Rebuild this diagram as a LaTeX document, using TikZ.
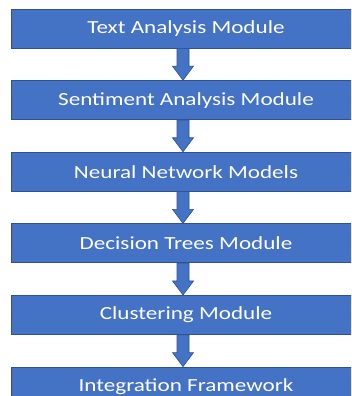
\documentclass[tikz,border=0pt]{standalone}
\usepackage{fontspec}
\setmainfont{Carlito}
\usetikzlibrary{positioning,calc}

\definecolor{boxblue}{HTML}{4472C4}
\definecolor{edgeblue}{HTML}{2F528F}

\tikzset{
  module/.style={draw=edgeblue, line width=.8pt, fill=boxblue, text=white,
    minimum width=350pt, minimum height=39pt, inner sep=0pt,
    font=\fontsize{18.5}{20}\selectfont},
  flow/.style={draw=edgeblue, line width=.6pt, fill=boxblue}
}
% wide lettering in the boxes
\newcommand{\wide}[1]{\scalebox{1.25}[1]{#1}}
% block arrow from the bottom of one box to the top of the next
\newcommand{\flowarrow}[2]{
  \draw[flow] ($(#1.south)+(-9pt,0)$) -- ($(#1.south)+(3pt,0)$)
    -- ($(#2.north)+(3pt,14pt)$) -- ($(#2.north)+(7.5pt,14pt)$)
    -- ($(#2.north)+(-3pt,0)$) -- ($(#2.north)+(-13.5pt,14pt)$)
    -- ($(#2.north)+(-9pt,14pt)$) -- cycle;
}

\begin{document}
\begin{tikzpicture}
\path[use as bounding box, clip] (0,0) rectangle (351pt,396pt);
\fill[white] (0,0) rectangle (351pt,396pt);

\node[module] (text) at (186pt,367.5pt) {\wide{Text Analysis Module}};
\node[module, below=31.8pt of text] (senti) {\wide{Sentiment Analysis Module}};
\node[module, below=31.8pt of senti] (neural) {\wide{Neural Network Models}};
\node[module, below=31.8pt of neural] (trees) {\wide{Decision Trees Module}};
\node[module, below=31.8pt of trees] (clust) {\wide{Clustering Module}};
\node[module, below=31.8pt of clust] (integ) {\wide{Integration Framework}};

\flowarrow{text}{senti}
\flowarrow{senti}{neural}
\flowarrow{neural}{trees}
\flowarrow{trees}{clust}
\flowarrow{clust}{integ}
\end{tikzpicture}
\end{document}
